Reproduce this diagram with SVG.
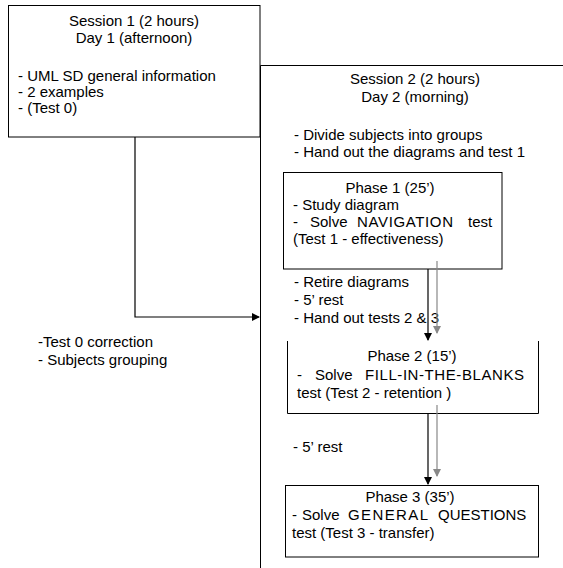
<svg xmlns="http://www.w3.org/2000/svg" width="563" height="568" viewBox="0 0 563 568">
<style>
text{font-family:"Liberation Sans",Arial,sans-serif;font-size:15px;fill:#000}
.c{text-anchor:middle}
.box{fill:none;stroke:#000;stroke-width:1}
.k{stroke:#000;stroke-width:1.2;fill:none}
.g{stroke:#888;stroke-width:1.2;fill:none}
</style>
<defs>
<marker id="ak" markerWidth="8" markerHeight="8" refX="7" refY="4" orient="auto" markerUnits="userSpaceOnUse"><path d="M0,0 L8,4 L0,8 Z" fill="#000"/></marker>
<marker id="ag" markerWidth="8" markerHeight="8" refX="7" refY="4" orient="auto" markerUnits="userSpaceOnUse"><path d="M0,0 L8,4 L0,8 Z" fill="#888"/></marker>
</defs>
<rect width="563" height="568" fill="#fff"/>
<g id="session1">
<rect class="box" x="8.5" y="5.5" width="251.5" height="131.5"/>
<text class="c" x="134" y="26">Session 1 (2 hours)</text>
<text class="c" x="134" y="43">Day 1 (afternoon)</text>
<text x="18" y="81">- UML SD general information</text>
<text x="18" y="97">- 2 examples</text>
<text x="18" y="113">-  (Test 0)</text>
</g>
<g id="session2">
<path class="box" d="M260.5,568 V65.5 H563"/>
<text class="c" x="415" y="84">Session 2 (2 hours)</text>
<text class="c" x="415" y="102">Day 2 (morning)</text>
<text x="294" y="140">- Divide subjects into groups</text>
<text x="294" y="157">- Hand out the diagrams and test 1</text>
<text x="294" y="287">- Retire diagrams</text>
<text x="294" y="305">- 5’ rest</text>
<text x="294" y="323">- Hand out tests 2 &amp; 3</text>
<text x="293" y="452">- 5’ rest</text>
</g>
<g id="phase1">
<rect class="box" x="283.5" y="172.5" width="218.5" height="96.5"/>
<text class="c" x="390" y="193">Phase 1 (25’)</text>
<text x="293" y="210">- Study diagram</text>
<text y="227"><tspan x="293">-</tspan><tspan x="310">Solve</tspan><tspan x="357" textLength="96" lengthAdjust="spacing">NAVIGATION</tspan><tspan x="468">test</tspan></text>
<text x="293" y="244">(Test 1 - effectiveness)</text>
</g>
<g id="phase2">
<path class="box" d="M287.5,341 V413.5 H538.5 V341"/>
<text class="c" x="412" y="361">Phase 2 (15’)</text>
<text y="380"><tspan x="297">-</tspan><tspan x="315">Solve</tspan><tspan x="365" textLength="159" lengthAdjust="spacing">FILL-IN-THE-BLANKS</tspan></text>
<text x="297" y="398">test (Test 2 - retention )</text>
</g>
<g id="phase3">
<rect class="box" x="285.5" y="485.5" width="253" height="71.5"/>
<text class="c" x="410" y="502">Phase 3 (35’)</text>
<text y="520"><tspan x="292">-</tspan><tspan x="302">Solve</tspan><tspan x="348" textLength="80" lengthAdjust="spacing">GENERAL</tspan><tspan x="438">QUESTIONS</tspan></text>
<text x="292" y="538">test (Test 3 - transfer)</text>
</g>
<g id="notes">
<text x="38" y="347">-Test 0 correction</text>
<text x="38" y="365">- Subjects grouping</text>
</g>
<g id="connectors">
<path class="k" d="M135,137 V317 H259" marker-end="url(#ak)"/>
<path class="k" d="M428,269 V340" marker-end="url(#ak)"/>
<path class="g" d="M437,261 V333" marker-end="url(#ag)"/>
<path class="k" d="M428,413 V484" marker-end="url(#ak)"/>
<path class="g" d="M437,405 V476" marker-end="url(#ag)"/>
</g>
</svg>
